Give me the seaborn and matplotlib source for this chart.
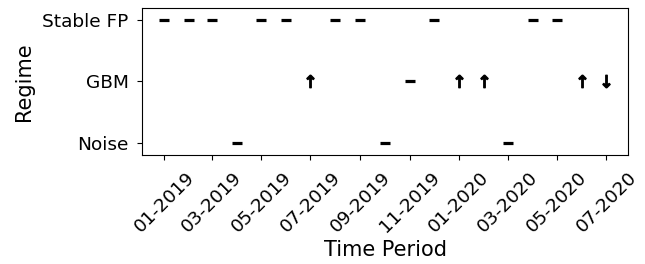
import pandas as pd
import matplotlib
matplotlib.use("Agg")
import matplotlib.pyplot as plt
import matplotlib.dates as mdates
import seaborn as sns

# monthly regime labels
months = pd.date_range("2019-01-01", "2020-07-01", freq="MS")
regimes = ["Stable FP", "Stable FP", "Stable FP", "Noise", "Stable FP", "Stable FP",
           "GBM", "Stable FP", "Stable FP", "Noise", "GBM", "Stable FP",
           "GBM", "GBM", "Noise", "Stable FP", "Stable FP", "GBM", "GBM"]
directions = ["flat", "flat", "flat", "flat", "flat", "flat",
              "up", "flat", "flat", "flat", "flat", "flat",
              "up", "up", "flat", "flat", "flat", "up", "down"]
regime_order = ["Noise", "GBM", "Stable FP"]

df = pd.DataFrame({"month": months, "regime": regimes, "direction": directions})
df["level"] = df["regime"].map({r: i for i, r in enumerate(regime_order)})

fig, ax = plt.subplots(figsize=(6.45, 2.64), dpi=100)
fig.subplots_adjust(left=0.22, right=0.974, top=0.97, bottom=0.413)

markers = {"flat": "_", "up": r"$\uparrow$", "down": r"$\downarrow$"}
for d, m in markers.items():
    sub = df[df["direction"] == d]
    if d == "flat":
        sns.scatterplot(data=sub, x="month", y="level", marker=m, s=60,
                        color="black", linewidth=2.3, ax=ax, legend=False)
    else:
        sns.scatterplot(data=sub, x="month", y="level", marker=m, s=80,
                        color="black", edgecolor="black", linewidth=1.0,
                        ax=ax, legend=False)

ax.set_ylim(-0.2, 2.2)
ax.set_yticks(range(len(regime_order)))
ax.set_yticklabels(regime_order, fontsize=13.3)
ax.xaxis.set_major_locator(mdates.MonthLocator(bymonth=[1, 3, 5, 7, 9, 11]))
ax.xaxis.set_major_formatter(mdates.DateFormatter("%m-%Y"))
plt.xticks(rotation=45, fontsize=13.3)
ax.tick_params(axis="both", pad=6)
ax.set_xlabel("Time Period", fontsize=15, labelpad=3)
ax.set_ylabel("Regime", fontsize=15, labelpad=6)

fig.savefig("out.png", dpi=100)
